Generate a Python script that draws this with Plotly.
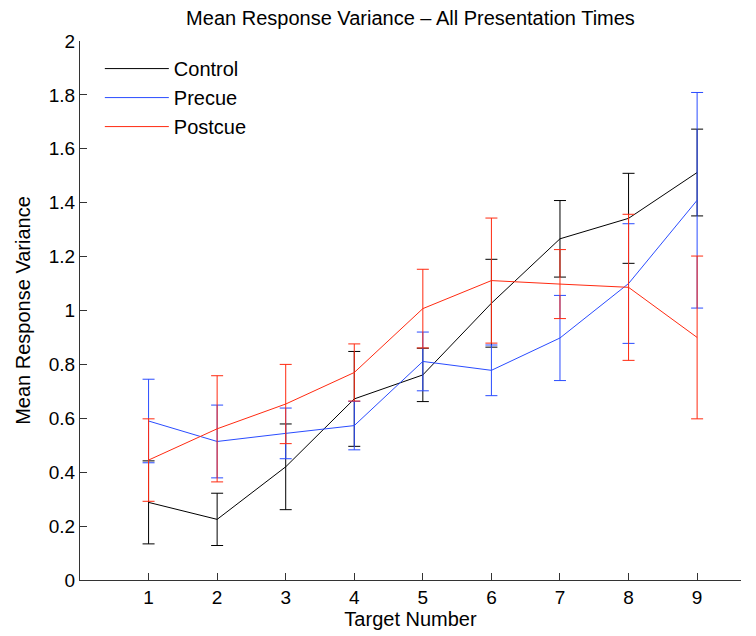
import plotly.graph_objects as go

targets = [1, 2, 3, 4, 5, 6, 7, 8, 9]
x_ticks = [1, 2, 3, 4, 5, 6, 7, 8, 9]
y_ticks = [0, 0.2, 0.4, 0.6, 0.8, 1, 1.2, 1.4, 1.6, 1.8, 2]
y_tick_labels = ["0", "0.2", "0.4", "0.6", "0.8", "1", "1.2", "1.4", "1.6", "1.8", "2"]

control_mean = [0.288, 0.225, 0.42, 0.672, 0.761, 1.027, 1.266, 1.342, 1.512]
control_err = [0.154, 0.097, 0.159, 0.176, 0.099, 0.163, 0.142, 0.167, 0.161]

precue_mean = [0.59, 0.514, 0.544, 0.573, 0.811, 0.778, 0.898, 1.10, 1.409]
precue_err = [0.155, 0.135, 0.094, 0.09, 0.109, 0.094, 0.158, 0.222, 0.40]

postcue_mean = [0.445, 0.561, 0.653, 0.77, 1.007, 1.111, 1.098, 1.086, 0.90]
postcue_err = [0.153, 0.197, 0.147, 0.106, 0.146, 0.232, 0.128, 0.271, 0.302]

series = [
    ("Control", control_mean, control_err, "#000000"),
    ("Precue", precue_mean, precue_err, "#2a4cff"),
    ("Postcue", postcue_mean, postcue_err, "#ff2a10"),
]

fig = go.Figure()
for name, m, e, c in series:
    fig.add_trace(go.Scatter(
        x=targets, y=m, name=name, mode="lines",
        line=dict(color=c, width=1),
        error_y=dict(type="data", array=e, visible=True, color=c, thickness=1, width=6),
    ))

font = "Liberation Sans, Arial, Helvetica, sans-serif"
fig.update_layout(
    width=756, height=636,
    margin=dict(l=80, r=15, t=41, b=56),
    plot_bgcolor="white", paper_bgcolor="white",
    font=dict(family=font, size=19, color="black"),
    title=dict(text="Mean Response Variance \u2013 All Presentation Times",
               x=(80 + 741) / 2 / 756, xanchor="center", y=1 - 18 / 636, yanchor="middle",
               font=dict(size=20)),
    showlegend=True,
    legend=dict(x=0.03, y=0.985, xanchor="left", yanchor="top",
                bgcolor="rgba(0,0,0,0)", borderwidth=0,
                font=dict(size=20), itemwidth=64, tracegroupgap=0),
    xaxis=dict(range=[0, 9.64], tickvals=x_ticks, ticks="inside", ticklen=7,
               showline=True, linecolor="#333", linewidth=1, tickcolor="#333",
               showgrid=False, zeroline=False, automargin=False,
               tickfont=dict(size=19),
               title=dict(text="Target Number", standoff=5, font=dict(size=20))),
    yaxis=dict(range=[0, 2], tickvals=y_ticks, ticktext=y_tick_labels,
               ticks="inside", ticklen=7,
               showline=True, linecolor="#333", linewidth=1, tickcolor="#333",
               showgrid=False, zeroline=False, automargin=False,
               tickfont=dict(size=19),
               title=dict(text="Mean Response Variance", standoff=12, font=dict(size=20))),
)

fig.write_html("out.html")
